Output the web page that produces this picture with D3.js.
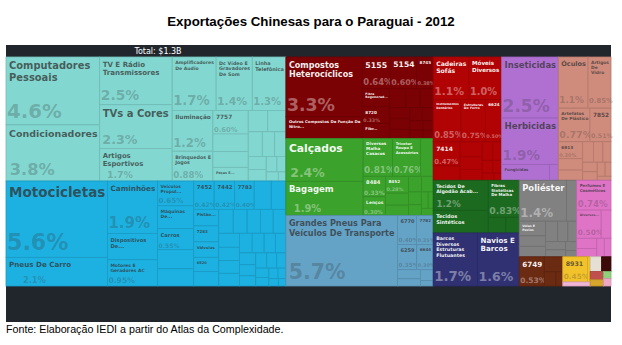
<!DOCTYPE html>
<html><head><meta charset="utf-8">
<script src="https://cdn.jsdelivr.net/npm/d3@7"></script>
<style>body{margin:0;background:#fff;} svg{display:block;}</style>
</head><body><svg id="chart" width="622" height="345"></svg>
<script>
// ---------------- data ----------------
const chartTitle = "Exportações Chinesas para o Paraguai - 2012";
const totalLabel = "Total: $1.3B";
const sourceNote = "Fonte: Elaboração IEDI a partir do Atlas da Complexidade.";

// values are shares of total exports (%); names only for labelled products
const maquinasNames = ["Computadores Pessoais","Condicionadores","TV E Rádio Transmissores","TVs a Cores","Artigos Esportivos","Amplificadores De Áudio","Dc Vídeo E Gravadores De Som","Linha Telefônica","Iluminação","Brinquedos E Jogos","7757","Máquinas De Lavar Roupa","Processos Power Machinery","Peças E..."];
const maquinasValues = [4.6,3.8,2.5,2.3,1.7,1.7,1.4,1.3,1.2,0.88,0.6,0.45,0.4,0.35,0.3,0.28,0.25,0.22,0.2,0.17,0.15,0.12,0.1,0.08,0.05];

const transporteNames = ["Motocicletas","Pneus De Carro","Caminhões","Dispositivos De...","Motores E Geradores AC","Veículos Propul...","Máquinas De...","Carros","Máquinas Para As Indústrias","Misturas De Pol... Materiais Betuminosos","7452","7442","7783","","","Pistão...","7283","Válvulas","6920"];
const transporteValues = [5.6,2.1,1.9,0.95,0.95,0.65,0.6,0.55,0.5,0.45,0.42,0.42,0.4,0.35,0.3,0.3,0.29,0.28,0.26,0.26,0.25,0.24,0.23,0.22,0.22,0.21,0.2,0.19,0.19,0.18,0.17,0.16,0.15,0.14,0.13,0.12,0.12,0.11,0.1,0.09,0.08,0.07,0.06,0.05,0.04];

const quimicosNames = ["Compostos Heterocíclicos","Outros Compostos De Função De Nitro...","5155","5154","8745","Fibra Regenerad...","8720","Fibr..."];
const quimicosValues = [3.3,1.2,0.64,0.6,0.38,0.36,0.33,0.3,0.22,0.2,0.18,0.16,0.15,0.13,0.12,0.1,0.09,0.08,0.07,0.06];

const texteisNames = ["Calçados","Bagagem","Diversos Malha Casacos","Tricotar Roupa E Acessórios","Natural Em...","8484","Lenços","8452"];
const texteisValues = [2.4,1.9,0.81,0.76,0.35,0.33,0.3,0.28,0.2,0.17,0.15,0.13,0.12,0.1,0.08,0.06,0.06];

const pneusNames = ["Grandes Pneus Para Veículos De Transporte","6770","7782","6259","6644"];
const pneusValues = [5.7,0.4,0.35,0.35,0.3,0.15,0.12,0.1,0.05];

const moveisNames = ["Cadeiras Sofás","Móveis Diversos","Instrumentos Dentários","Estruturas De Ferro","6624","7414"];
const moveisValues = [1.1,1.0,0.85,0.75,0.5,0.47,0.28,0.24,0.2,0.17,0.14,0.12,0.1,0.08,0.06,0.04];

const agroNames = ["Inseticidas","Herbicidas","Fungicidas"];
const agroValues = [2.5,1.9,0.55,0.1];

const vidroNames = ["Óculos","Artigos De Vidro","Artefatos De Plástico","7852","6913"];
const vidroValues = [1.1,0.85,0.77,0.51,0.3,0.2,0.18,0.16,0.14,0.12,0.1,0.09,0.08,0.06,0.04];

const tecidosNames = ["Tecidos De Algodão Acab...","Tecidos Sintéticos","Fibras Sintéticas De Malha"];
const tecidosValues = [1.2,0.9,0.83,0.2,0.15];

const naviosNames = ["Barcos Diversos Estruturas Flutuantes","Navios E Barcos"];
const naviosValues = [1.7,1.6];

const poliesterNames = ["Poliéster","7853","Velas E Pavios","6613"];
const poliesterValues = [1.4,0.3,0.28,0.2,0.2,0.18,0.15,0.13,0.12,0.1,0.07,0.05];

const cosmeticosNames = ["Perfumes E Cosméticos","Diversos..."];
const cosmeticosValues = [0.74,0.5,0.2,0.15,0.12,0.1,0.09];

const metaisNames = ["6749"];
const metaisValues = [0.53,0.2,0.12,0.07];

const joiasNames = ["8931"];
const joiasValues = [0.45,0.05];

const rosaNames = [];
const rosaValues = [0.08];

const outrosNames = [];
const outrosValues = [0.12,0.1,0.08,0.06,0.04,0.04];

// ---------------- styles ----------------
const sectorColors = {
  maquinas:"#82d7d0", transporte:"#1db1e1", quimicos:"#7b0204", texteis:"#3ba22c",
  pneus:"#64a2c6", moveis:"#b20304", agro:"#b070d2", vidro:"#cf8b7c",
  tecidos:"#1b6a1f", navios:"#2f3173", poliester:"#818181", cosmeticos:"#df74c7",
  metais:"#6b2a12", joias:"#f2c22b", rosa:"#f0b4d4"
};
const outrosColors = ["#e6e0d4","#3d0a0a","#c0504d","#d6a62c","#8fd07a","#f0a8c8"];

// ---------------- hierarchy ----------------
function sector(key, names, values) {
  return { sector: key, children: values.map((v, i) => ({ name: names[i] || "", value: v, sector: key, idx: i })) };
}
const rootData = { children: [
  { children: [ sector("maquinas", maquinasNames, maquinasValues),
                sector("transporte", transporteNames, transporteValues) ] },
  { children: [ sector("quimicos", quimicosNames, quimicosValues),
                sector("texteis", texteisNames, texteisValues),
                sector("pneus", pneusNames, pneusValues) ] },
  { children: [
      { children: [ sector("moveis", moveisNames, moveisValues),
                    sector("agro", agroNames, agroValues),
                    sector("vidro", vidroNames, vidroValues) ] },
      { children: [
          { children: [ sector("tecidos", tecidosNames, tecidosValues),
                        sector("navios", naviosNames, naviosValues) ] },
          { children: [
              { children: [ sector("poliester", poliesterNames, poliesterValues),
                            sector("cosmeticos", cosmeticosNames, cosmeticosValues) ] },
              { children: [ sector("metais", metaisNames, metaisValues),
                            { children: [ sector("joias", joiasNames, joiasValues),
                                          sector("rosa", rosaNames, rosaValues) ] },
                            sector("outros", outrosNames, outrosValues) ] }
          ] }
      ] }
  ] }
] };

// ---------------- drawing ----------------
const svg = d3.select("#chart");
const OX = 6, OY = 57, TW = 605, TH = 229;

svg.append("text").attr("x", 311).attr("y", 26).attr("text-anchor", "middle")
  .style("font", "bold 13.3px 'Liberation Sans', Arial, sans-serif").attr("fill", "#000").text(chartTitle);

svg.append("rect").attr("x", 6).attr("y", 45).attr("width", 605).attr("height", 277).attr("fill", "#21262d");
svg.append("text").attr("x", 158).attr("y", 54).attr("text-anchor", "middle")
  .style("font", "8px 'DejaVu Sans', sans-serif").attr("fill", "#fff").text(totalLabel);

svg.append("text").attr("x", 6).attr("y", 333)
  .style("font", "10.7px 'Liberation Sans', Arial, sans-serif").attr("fill", "#000").text(sourceNote);

function tile(node, x0, y0, x1, y1) {
  if (node.data.sector) d3.treemapSquarify(node, x0, y0, x1, y1);
  else if (node.depth % 2 === 0) d3.treemapDice(node, x0, y0, x1, y1);
  else d3.treemapSlice(node, x0, y0, x1, y1);
}
const root = d3.hierarchy(rootData).sum(d => d.value || 0);
d3.treemap().size([TW, TH]).tile(tile).round(false)(root);

const ctx = document.createElement("canvas").getContext("2d");
ctx.font = "bold 100px 'DejaVu Sans'";
const em = t => ctx.measureText(t).width / 100;
const fmt = v => (v >= 1 ? v.toFixed(1) : v.toFixed(2)) + "%";

const g = svg.append("g").attr("transform", `translate(${OX},${OY})`);

root.leaves().forEach(leaf => {
  const d = leaf.data;
  const fill = d.sector === "outros" ? outrosColors[d.idx] : sectorColors[d.sector];
  const x0 = leaf.x0, y0 = leaf.y0, w = leaf.x1 - leaf.x0, h = leaf.y1 - leaf.y0;
  const cell = g.append("g");
  cell.append("rect").attr("x", x0).attr("y", y0).attr("width", w).attr("height", h)
    .attr("fill", fill).attr("stroke", d3.color(fill).darker(0.35)).attr("stroke-width", 0.8);

  if (!d.name || w < 10 || h < 8) return;
  const c = d3.rgb(fill);
  const dark = (0.299 * c.r + 0.587 * c.g + 0.114 * c.b) < 133;
  const ink = dark ? "#fff" : "#333";

  const words = d.name.split(" ");
  const L = em(d.name);
  const Lw = d3.max(words, em);
  const fs = Math.min(Math.sqrt(0.25 * w * h / (L * 1.2)), (w - 5) / Lw, 0.25 * h, 16);
  if (fs < 3) return;
  const maxW = w - 4;
  const lines = [];
  let cur = "";
  words.forEach(wd => {
    const t = cur ? cur + " " + wd : wd;
    if (cur && em(t) * fs > maxW) { lines.push(cur); cur = wd; } else cur = t;
  });
  lines.push(cur);
  const nameText = cell.append("text")
    .style("font", `bold ${fs}px 'DejaVu Sans', sans-serif`)
    .attr("fill", ink).attr("fill-opacity", dark ? 0.95 : 0.75);
  lines.forEach((ln, i) => {
    nameText.append("tspan").attr("x", x0 + 3).attr("y", y0 + 3 + fs * 0.95 + i * fs * 1.15).text(ln);
  });
  const block = 3 + lines.length * fs * 1.15;

  const ps = Math.min(0.29 * h, 0.3 * w, 23);
  if (ps >= 4.5 && h >= block + ps + 4) {
    const pt = fmt(d.value);
    const tw = em(pt) * ps;
    const sx = Math.max(x0 + 0.28 * w - tw / 2, x0 + 1);
    cell.append("text").attr("x", sx).attr("y", y0 + h - 0.1 * h)
      .style("font", `bold ${ps}px 'DejaVu Sans', sans-serif`)
      .attr("fill", ink).attr("fill-opacity", dark ? 0.38 : 0.27).text(pt);
  }
});
</script>
</body></html>
